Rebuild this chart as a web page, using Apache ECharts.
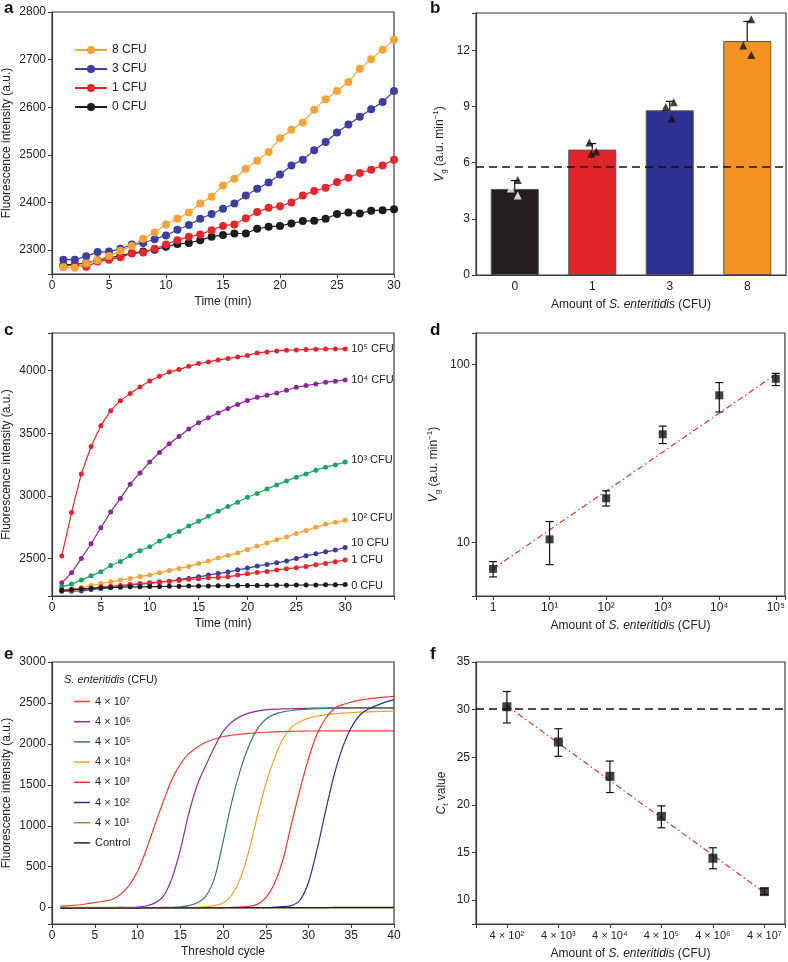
<!DOCTYPE html>
<html>
<head>
<meta charset="utf-8">
<script src="https://cdn.jsdelivr.net/npm/echarts@6/dist/echarts.min.js"></script>
<style>html,body{margin:0;padding:0;background:#fff}#chart{width:788px;height:962px}</style>
</head>
<body>
<div id="chart"></div>
<script>
// ---- panel a: fluorescence vs time, low CFU
var timeA = [1,2,3,4,5,6,7,8,9,10,11,12,13,14,15,16,17,18,19,20,21,22,23,24,25,26,27,28,29,30];
var a8 = [2264,2263,2272,2279,2288,2299,2309,2324,2337,2354,2366,2379,2398,2412,2436,2450,2471,2488,2506,2535,2553,2568,2595,2617,2634,2653,2681,2701,2721,2742];
var a3 = [2280,2280,2287,2296,2297,2303,2312,2315,2323,2331,2343,2353,2366,2376,2387,2398,2415,2429,2442,2459,2478,2490,2510,2527,2547,2564,2580,2596,2611,2634];
var a1 = [2267,2269,2265,2276,2280,2285,2293,2295,2303,2312,2321,2328,2333,2342,2351,2354,2367,2380,2389,2392,2400,2415,2424,2431,2443,2452,2462,2469,2478,2490];
var a0 = [2269,2270,2273,2279,2284,2288,2294,2297,2301,2307,2313,2315,2321,2328,2332,2335,2335,2345,2349,2351,2356,2361,2362,2366,2376,2379,2377,2383,2384,2386];

// ---- panel b: Vg bars
var bCats = ['0', '1', '3', '8'];
var bMeans = [4.6, 6.7, 8.8, 12.5];
var bErrTop = [5.05, 7.02, 9.28, 13.55];
var bRep1 = [4.62, 7.08, 8.98, 13.66];
var bRep2 = [4.25, 6.48, 9.23, 12.27];
var bRep3 = [5.07, 6.6, 8.36, 11.75];
var bThreshold = 5.8;

// ---- panel c: fluorescence vs time, wide CFU range
var timeC = [1,2,3,4,5,6,7,8,9,10,11,12,13,14,15,16,17,18,19,20,21,22,23,24,25,26,27,28,29,30];
var c5 = [2519,2866,3175,3394,3560,3680,3760,3816,3869,3917,3955,3989,4008,4035,4056,4069,4085,4096,4109,4120,4141,4149,4157,4163,4165,4168,4171,4173,4173,4173];
var c4 = [2305,2385,2500,2617,2745,2871,2978,3093,3183,3269,3346,3416,3474,3533,3584,3624,3661,3698,3730,3762,3786,3802,3821,3843,3867,3880,3893,3907,3915,3925];
var c3 = [2273,2295,2327,2361,2393,2444,2476,2521,2561,2593,2639,2679,2716,2759,2796,2836,2876,2914,2948,2988,3018,3055,3087,3119,3149,3175,3205,3229,3247,3269];
var c2 = [2238,2254,2267,2283,2300,2313,2327,2340,2356,2367,2385,2404,2420,2436,2460,2479,2503,2524,2543,2572,2599,2623,2650,2671,2700,2724,2748,2772,2788,2804];
var c10 = [2238,2238,2240,2251,2259,2267,2278,2289,2294,2300,2310,2318,2332,2340,2353,2367,2380,2391,2409,2423,2439,2452,2465,2479,2500,2521,2537,2553,2567,2588];
var c1 = [2246,2246,2251,2259,2273,2278,2283,2291,2300,2305,2313,2318,2324,2334,2337,2345,2348,2353,2367,2377,2388,2396,2407,2418,2425,2436,2450,2460,2474,2487];
var c0 = [2246,2251,2257,2262,2265,2267,2270,2273,2273,2275,2275,2278,2278,2279,2280,2280,2281,2282,2283,2284,2284,2285,2286,2286,2287,2288,2288,2289,2290,2291];
var cLabels = ['10⁵ CFU', '10⁴ CFU', '10³ CFU', '10² CFU', '10 CFU', '1 CFU', '0 CFU'];

// ---- panel d: Vg vs CFU (log-log)
var dAmount = [1, 10, 100, 1000, 10000, 100000];
var dMean = [7.1, 10.4, 17.7, 40.5, 67, 83];
var dLow = [6.4, 7.5, 16.0, 35.9, 54, 76];
var dHigh = [7.8, 13.1, 19.5, 45, 79, 89];
var dFitX = [1, 100000];
var dFitY = [7.1, 88];

// ---- panel e: qPCR amplification curves
var cycles = [1,2,3,4,5,6,7,8,9,10,11,12,13,14,15,16,17,18,19,20,21,22,23,24,25,26,27,28,29,30,31,32,33,34,35,36,37,38,39,40];
var e7 = [18,24,32,45,60,78,100,160,270,440,700,1000,1290,1560,1750,1880,1960,2020,2060,2090,2105,2118,2128,2136,2142,2147,2150,2153,2155,2157,2158,2160,2160,2160,2160,2160,2160,2160,2158,2158];
var e6 = [0,0,0,0,0,0,1,2,3,6,20,55,138,350,700,1150,1500,1740,1960,2150,2265,2333,2375,2400,2415,2422,2427,2430,2433,2435,2437,2438,2439,2440,2440,2440,2440,2440,2438,2436];
var e5 = [0,0,0,0,0,0,0,0,0,0,0,1,2,4,10,25,60,140,360,800,1280,1670,1970,2180,2300,2360,2390,2408,2418,2425,2430,2433,2435,2437,2438,2439,2440,2440,2440,2440];
var e4 = [0,0,0,0,0,0,0,0,0,0,0,0,0,0,0,1,3,10,25,57,150,350,680,1110,1510,1820,2060,2200,2270,2315,2340,2355,2366,2375,2382,2388,2392,2395,2398,2400];
var e3 = [0,0,0,0,0,0,0,0,0,0,0,0,0,0,0,0,0,0,0,0,2,5,15,40,120,290,580,1020,1440,1820,2120,2310,2430,2480,2510,2535,2550,2562,2572,2580];
var e2 = [0,0,0,0,0,0,0,0,0,0,0,0,0,0,0,0,0,0,0,0,0,0,0,0,0,5,12,25,90,310,710,1180,1620,1960,2200,2350,2425,2470,2510,2540];
var e1 = [5,4,4,3,3,2,2,2,1,1,1,0,0,0,-1,-1,-2,-2,-2,-3,-3,-3,-3,-4,-4,-4,-4,-5,-5,-5,-5,-5,-6,-6,-6,-6,-6,-6,-6,-6];
var eCtrl = [-8,-8,-7,-7,-6,-6,-6,-5,-5,-5,-4,-4,-4,-3,-3,-3,-2,-2,-2,-2,-1,-1,-1,0,0,0,0,0,1,1,1,1,2,2,2,2,2,3,3,3];
var eNames = ['4 × 10⁷', '4 × 10⁶', '4 × 10⁵', '4 × 10⁴', '4 × 10³', '4 × 10²', '4 × 10¹', 'Control'];

// ---- panel f: Ct vs CFU
var fExp = [2, 3, 4, 5, 6, 7];
var fMean = [30.3, 26.6, 23.0, 18.8, 14.4, 10.9];
var fLow = [28.6, 25.1, 21.3, 17.6, 13.3, 10.6];
var fHigh = [31.9, 28.0, 24.6, 19.9, 15.5, 11.25];
var fFitX = [2, 7];
var fFitY = [30.4, 10.8];
var fThreshold = 30.05;

var FONT = '"Liberation Sans", Arial, sans-serif';
var SUP = ['⁰','¹','²','³','⁴','⁵','⁶','⁷','⁸','⁹'];
var AX = '#3a3a3a';

var rich = {
    i: { fontStyle: 'italic', fontSize: 12, fontFamily: FONT, color: '#222', lineHeight: 16 },
    sub: { fontSize: 8, fontFamily: FONT, color: '#222', verticalAlign: 'bottom', lineHeight: 10 },
    sup: { fontSize: 8, fontFamily: FONT, color: '#222', verticalAlign: 'top', lineHeight: 10 }
};

function axis(opt) {
    var base = {
        axisLine: { show: true, onZero: false, lineStyle: { color: AX, width: 1.2 } },
        axisTick: { show: true, length: 4, lineStyle: { color: AX } },
        axisLabel: { color: '#222', fontSize: 12, fontFamily: FONT, margin: 6 },
        splitLine: { show: false },
        nameLocation: 'middle',
        nameTextStyle: { color: '#222', fontSize: 12, fontFamily: FONT, rich: rich }
    };
    for (var k in opt) {
        if (k === 'axisLabel') {
            for (var j in opt[k]) base.axisLabel[j] = opt[k][j];
        } else {
            base[k] = opt[k];
        }
    }
    return base;
}

function multipleOf(step) {
    return function(v) {
        return Math.abs(v / step - Math.round(v / step)) < 1e-6 ? String(v) : '';
    };
}

function pairs(xs, ys) {
    return xs.map(function(x, i) { return [x, ys[i]]; });
}

// error bars: [x, low, high]
function errRender(capTopOnly) {
    return function(params, api) {
        var pLo = api.coord([api.value(0), api.value(1)]);
        var pHi = api.coord([api.value(0), api.value(2)]);
        var st = { stroke: '#111', lineWidth: 1.2 };
        var kids = [
            { type: 'line', shape: { x1: pLo[0], y1: pLo[1], x2: pHi[0], y2: pHi[1] }, style: st },
            { type: 'line', shape: { x1: pHi[0] - 4, y1: pHi[1], x2: pHi[0] + 4, y2: pHi[1] }, style: st }
        ];
        if (!capTopOnly) {
            kids.push({ type: 'line', shape: { x1: pLo[0] - 4, y1: pLo[1], x2: pLo[0] + 4, y2: pLo[1] }, style: st });
        }
        return { type: 'group', children: kids };
    };
}

var grids = [
    { left: 52, top: 12, width: 342, height: 262 },
    { left: 476, top: 13, width: 310, height: 262 },
    { left: 52, top: 333, width: 342, height: 263 },
    { left: 476, top: 333, width: 310, height: 263 },
    { left: 52, top: 662, width: 342, height: 262 },
    { left: 476, top: 662, width: 310, height: 262 }
].map(function(g) {
    g.show = true; g.borderColor = AX; g.borderWidth = 1.2; g.containLabel = false;
    return g;
});

var xAxes = [
    axis({ gridIndex: 0, type: 'value', min: 0, max: 30, interval: 5, name: 'Time (min)', nameGap: 22 }),
    axis({ gridIndex: 1, type: 'category', data: bCats, name: 'Amount of {i|S. enteritidis} (CFU)', nameGap: 22, axisTick: { show: false, alignWithLabel: true } }),
    axis({ gridIndex: 2, type: 'value', min: 0, max: 35, interval: 5, name: 'Time (min)', nameGap: 22,
        axisLabel: { formatter: function(v) { return v <= 30 ? String(v) : ''; } } }),
    axis({ gridIndex: 3, type: 'log', logBase: 10, min: 0.5, max: 145000, name: 'Amount of {i|S. enteritidis} (CFU)', nameGap: 22,
        axisLabel: { formatter: function(v) {
            var e = Math.round(Math.log10(v));
            if (Math.abs(Math.log10(v) - e) > 1e-6) return '';
            return e === 0 ? '1' : '10' + SUP[e];
        } } }),
    axis({ gridIndex: 4, type: 'value', min: 0, max: 40, interval: 5, name: 'Threshold cycle', nameGap: 22 }),
    axis({ gridIndex: 5, type: 'value', min: 1.4, max: 7.4, name: 'Amount of {i|S. enteritidis} (CFU)', nameGap: 22,
        axisLabel: { fontSize: 11, formatter: function(v) {
            if (Math.abs(v - Math.round(v)) > 1e-6) return '';
            return '4 × 10' + SUP[Math.round(v)];
        } } })
];

var yAxes = [
    axis({ gridIndex: 0, type: 'value', min: 2250, max: 2800, name: 'Fluorescence intensity (a.u.)', nameGap: 39,
        axisLabel: { formatter: multipleOf(100) } }),
    axis({ gridIndex: 1, type: 'value', min: 0, max: 14, interval: 3, name: '{i|V}{sub|g} (a.u. min{sup|−1})', nameGap: 28,
        axisLabel: { formatter: multipleOf(3) } }),
    axis({ gridIndex: 2, type: 'value', min: 2200, max: 4300, name: 'Fluorescence intensity (a.u.)', nameGap: 39,
        axisLabel: { formatter: multipleOf(500) } }),
    axis({ gridIndex: 3, type: 'log', logBase: 10, min: 5, max: 150, name: '{i|V}{sub|g} (a.u. min{sup|−1})', nameGap: 34,
        axisLabel: { formatter: function(v) {
            var e = Math.round(Math.log10(v));
            return Math.abs(Math.log10(v) - e) < 1e-6 ? String(Math.pow(10, e)) : '';
        } } }),
    axis({ gridIndex: 4, type: 'value', min: -200, max: 3000, name: 'Fluorescence intensity (a.u.)', nameGap: 39,
        axisLabel: { formatter: multipleOf(500) } }),
    axis({ gridIndex: 5, type: 'value', min: 7.5, max: 35, name: '{i|C}{sub|t} value', nameGap: 26,
        axisLabel: { formatter: multipleOf(5) } })
];

var series = [];

// panel a
var aSeries = [
    { name: '0 CFU', data: a0, color: '#1b1b1b' },
    { name: '1 CFU', data: a1, color: '#e3272d' },
    { name: '3 CFU', data: a3, color: '#3c3f9d' },
    { name: '8 CFU', data: a8, color: '#f6a33a' }
];
aSeries.forEach(function(s) {
    series.push({
        name: s.name, type: 'line', xAxisIndex: 0, yAxisIndex: 0,
        data: pairs(timeA, s.data), symbol: 'circle', symbolSize: 8,
        itemStyle: { color: s.color }, lineStyle: { color: s.color, width: 1.2 }, animation: false
    });
});

// panel b
var barColors = ['#231f20', '#e0262b', '#2e3192', '#f39322'];
series.push({
    type: 'bar', xAxisIndex: 1, yAxisIndex: 1, barWidth: 48,
    data: bMeans.map(function(v, i) {
        return { value: v, itemStyle: { color: barColors[i], borderColor: '#555', borderWidth: 1 } };
    }),
    markLine: {
        silent: true, symbol: 'none', label: { show: false },
        lineStyle: { type: [8, 5], color: '#111', width: 1.6 },
        data: [{ yAxis: bThreshold }]
    },
    animation: false
});
series.push({
    type: 'custom', xAxisIndex: 1, yAxisIndex: 1, z: 3,
    renderItem: errRender(true), encode: { x: 0, y: [1, 2] },
    data: bMeans.map(function(v, i) { return [i, v, bErrTop[i]]; }), animation: false
});
var repJitter = [[-4, -3, -4, 4], [3, -1, 4, -4], [3, 4, 2, 4]];
[bRep1, bRep2, bRep3].forEach(function(rep, r) {
    series.push({
        type: 'scatter', xAxisIndex: 1, yAxisIndex: 1, z: 4, symbol: 'triangle', symbolSize: 8,
        data: rep.map(function(v, i) {
            var white = (i === 0 && r < 2);
            return { value: [i, v], symbolOffset: [repJitter[r][i], 0],
                itemStyle: { color: white ? '#fff' : '#111' } };
        }),
        animation: false
    });
});

// panel c
var cData = [c5, c4, c3, c2, c10, c1, c0];
var cColors = ['#e3262c', '#8a2a9a', '#1da462', '#f7a23a', '#3a3e9c', '#e3272d', '#1b1b1b'];
var cOffsets = [[0, 0], [0, 0], [0, -2], [0, -2], [0, -4], [0, 0], [0, 1]];
cData.forEach(function(d, k) {
    series.push({
        name: 'c-' + cLabels[k], type: 'line', xAxisIndex: 2, yAxisIndex: 2,
        data: pairs(timeC, d), symbol: 'circle', symbolSize: 5,
        itemStyle: { color: cColors[k] }, lineStyle: { color: cColors[k], width: 1.2 },
        endLabel: { show: true, formatter: cLabels[k], fontSize: 11, fontFamily: FONT, color: '#222',
            distance: 6, offset: cOffsets[k] },
        animation: false
    });
});

// panel d
series.push({
    type: 'line', xAxisIndex: 3, yAxisIndex: 3, data: pairs(dFitX, dFitY), symbol: 'none', z: 2,
    lineStyle: { color: '#d9382c', width: 1.2, type: [6, 3, 1.5, 3] }, animation: false
});
series.push({
    type: 'custom', xAxisIndex: 3, yAxisIndex: 3, z: 3, renderItem: errRender(false), encode: { x: 0, y: [1, 2] },
    data: dAmount.map(function(x, i) { return [x, dLow[i], dHigh[i]]; }), animation: false
});
series.push({
    type: 'scatter', xAxisIndex: 3, yAxisIndex: 3, z: 4, symbol: 'rect', symbolSize: 8,
    itemStyle: { color: '#111' }, data: pairs(dAmount, dMean), animation: false
});

// panel e
var eData = [e7, e6, e5, e4, e3, e2, e1, eCtrl];
var eColors = ['#e6413a', '#8e2c9c', '#3e7b5c', '#f7a12b', '#e5392d', '#2e3192', '#a8823c', '#222222'];
eData.forEach(function(d, k) {
    series.push({
        name: eNames[k], type: 'line', xAxisIndex: 4, yAxisIndex: 4,
        data: pairs(cycles, d), symbol: 'none', smooth: 0.3,
        itemStyle: { color: eColors[k] }, lineStyle: { color: eColors[k], width: 1.2 }, animation: false
    });
});

// panel f
series.push({
    type: 'line', xAxisIndex: 5, yAxisIndex: 5, data: pairs(fFitX, fFitY), symbol: 'none', z: 2,
    lineStyle: { color: '#d9382c', width: 1.2, type: [6, 3, 1.5, 3] },
    markLine: {
        silent: true, symbol: 'none', label: { show: false },
        lineStyle: { type: [8, 5], color: '#111', width: 1.6 },
        data: [{ yAxis: fThreshold }]
    },
    animation: false
});
series.push({
    type: 'custom', xAxisIndex: 5, yAxisIndex: 5, z: 3, renderItem: errRender(false), encode: { x: 0, y: [1, 2] },
    data: fExp.map(function(x, i) { return [x, fLow[i], fHigh[i]]; }), animation: false
});
series.push({
    type: 'scatter', xAxisIndex: 5, yAxisIndex: 5, z: 4, symbol: 'rect', symbolSize: 9,
    itemStyle: { color: '#111' }, data: pairs(fExp, fMean), animation: false
});

var panelTitles = [['a', 4, 0], ['b', 430, 0], ['c', 4, 322], ['d', 430, 322], ['e', 4, 646], ['f', 430, 646]].map(function(p) {
    return { text: p[0], left: p[1], top: p[2], padding: 0,
        textStyle: { fontSize: 17, fontWeight: 'bold', fontFamily: FONT, color: '#111' } };
});
panelTitles.push({
    text: '{i|S. enteritidis} (CFU)', left: 64, top: 674, padding: 0,
    textStyle: { fontSize: 11, fontWeight: 'normal', fontFamily: FONT, color: '#222',
        rich: { i: { fontStyle: 'italic', fontSize: 11, fontFamily: FONT, color: '#222' } } }
});

var chart = echarts.init(document.getElementById('chart'), null, { renderer: 'canvas' });
chart.setOption({
    backgroundColor: '#fff',
    animation: false,
    title: panelTitles,
    grid: grids,
    xAxis: xAxes,
    yAxis: yAxes,
    legend: [
        {
            data: ['8 CFU', '3 CFU', '1 CFU', '0 CFU'], orient: 'vertical', left: 74, top: 44, padding: 0,
            itemWidth: 32, itemHeight: 10, itemGap: 7, selectedMode: false,
            textStyle: { fontSize: 12, fontFamily: FONT, color: '#222' }
        },
        {
            data: eNames, orient: 'vertical', left: 74, top: 696, padding: 0, icon: 'rect',
            itemWidth: 16, itemHeight: 1.5, itemGap: 9.2, selectedMode: false,
            textStyle: { fontSize: 11, fontFamily: FONT, color: '#222' }
        }
    ],
    series: series
});
</script>
</body>
</html>
